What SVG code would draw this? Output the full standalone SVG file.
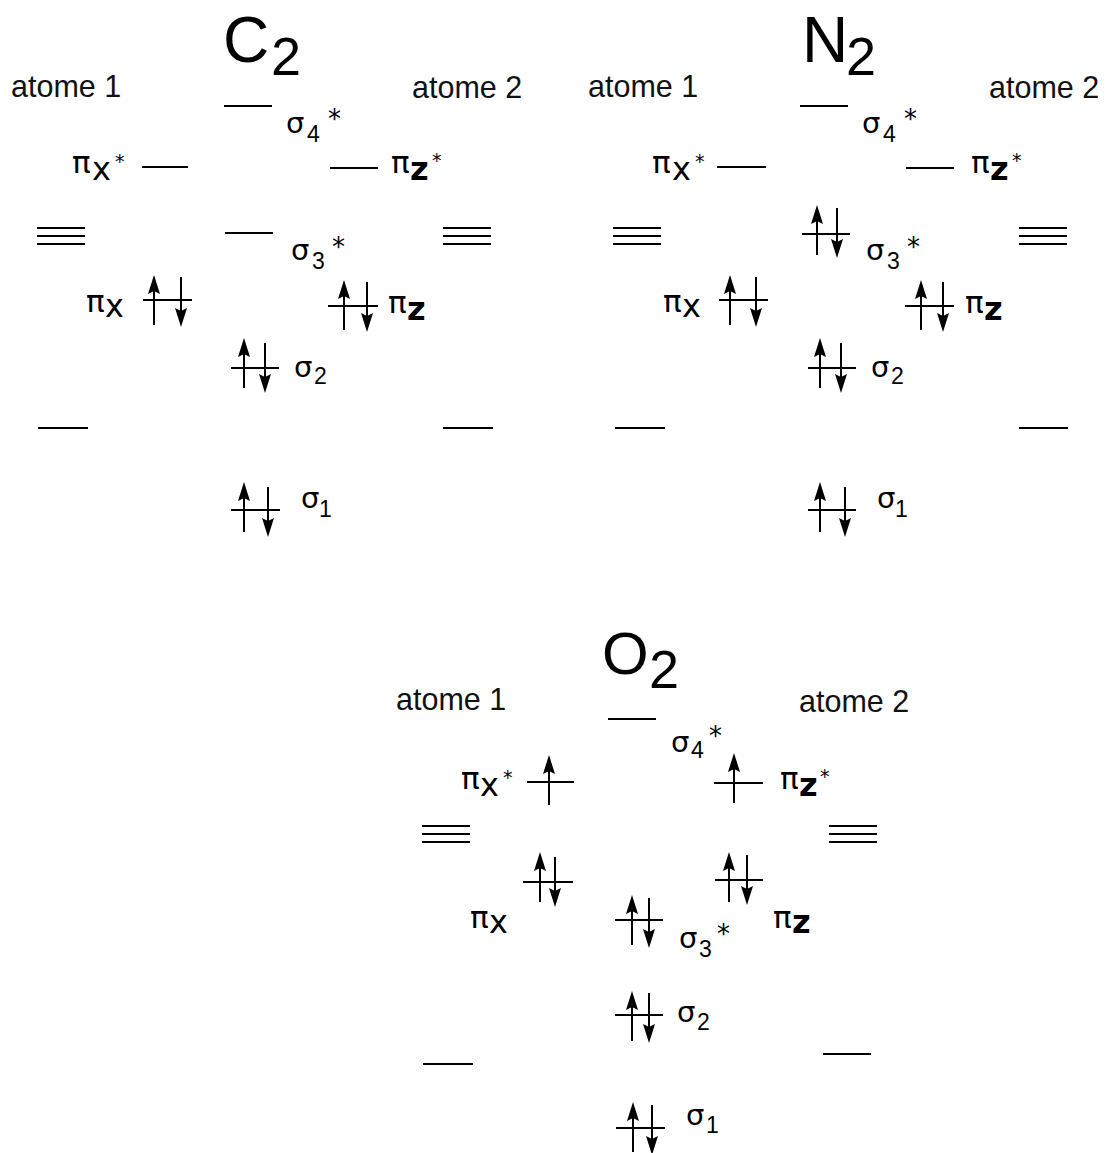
<svg xmlns="http://www.w3.org/2000/svg" xmlns:xlink="http://www.w3.org/1999/xlink" width="1108" height="1153" viewBox="0 0 1108 1153">
  <style>
    text { font-family: "Liberation Sans", Arial, sans-serif; fill: #000; }
    .lv { stroke: #000; stroke-width: 2; fill: none; }
    .sh { stroke: #000; stroke-width: 2; }
    .hd { fill: #000; stroke: none; }
    .at { font-size: 30.5px; fill: #111; }
    .ti { font-size: 64px; }
    .tis { font-size: 54px; }
    .g { font-family: "DejaVu Sans", sans-serif; }
    .sg { font-size: 29px; }
    .pi { font-size: 31px; }
    .sub { font-family: "Liberation Sans", Arial, sans-serif; font-size: 23px; }
    .st { font-size: 26px; }
    .sts { font-size: 19px; }
    .xz { font-size: 32px; }
    .zb { font-size: 32px; font-weight: bold; }
  </style>
  <defs>
    <!-- electron spin up: tip at (0,0), shaft 50 long -->
    <g id="eu">
      <line class="sh" x1="0" y1="10" x2="0" y2="50"/>
      <path class="hd" d="M0,0 L6,19 L0,16 L-6,19 Z"/>
    </g>
    <!-- electron spin down: top at (0,0), tip at (0,50) -->
    <g id="ed">
      <line class="sh" x1="0" y1="0" x2="0" y2="40"/>
      <path class="hd" d="M0,50 L6,31 L0,34 L-6,31 Z"/>
    </g>
    <!-- triple degenerate atomic p level -->
    <g id="tri">
      <line class="lv" x1="0" y1="0" x2="48" y2="0"/>
      <line class="lv" x1="0" y1="8" x2="48" y2="8"/>
      <line class="lv" x1="0" y1="16" x2="48" y2="16"/>
    </g>
  </defs>

  <rect width="1108" height="1153" fill="#fff"/>

  <!-- ===================== C2 ===================== -->
  <g id="c2">
    <g id="c2-title">
      <text class="ti" x="223" y="62">C<tspan class="tis" x="271" y="75">2</tspan></text>
    </g>
    <g id="c2-atome1"><text class="at" x="11" y="97">atome 1</text></g>
    <g id="c2-atome2"><text class="at" x="412" y="98">atome 2</text></g>

    <g id="c2-sigma4s">
      <line class="lv" x1="224" y1="106" x2="272" y2="106"/>
      <text class="g sg" x="286" y="133">σ<tspan class="sub" x="307" y="142">4</tspan><tspan class="st" x="328" y="128">*</tspan></text>
    </g>
    <g id="c2-pix-s">
      <text class="g pi" x="72" y="173">π<tspan class="xz" x="92" y="180">x</tspan><tspan class="sts" x="115" y="168">*</tspan></text>
      <line class="lv" x1="142" y1="167" x2="188" y2="167"/>
    </g>
    <g id="c2-piz-s">
      <line class="lv" x1="330" y1="168" x2="378" y2="168"/>
      <text class="g pi" x="391" y="173">π<tspan class="zb" x="410" y="180">z</tspan><tspan class="sts" x="432" y="167">*</tspan></text>
    </g>
    <g id="c2-p1"><use xlink:href="#tri" x="37" y="228"/></g>
    <g id="c2-p2"><use xlink:href="#tri" x="443" y="228"/></g>
    <g id="c2-sigma3s">
      <line class="lv" x1="225" y1="233" x2="273" y2="233"/>
      <text class="g sg" x="291" y="260">σ<tspan class="sub" x="312" y="269">3</tspan><tspan class="st" x="332" y="256">*</tspan></text>
    </g>
    <g id="c2-pix">
      <text class="g pi" x="86" y="312">π<tspan class="xz" x="105" y="317">x</tspan></text>
      <line class="lv" x1="143" y1="300" x2="192" y2="300"/>
      <use xlink:href="#eu" x="154" y="275"/>
      <use xlink:href="#ed" x="181" y="277"/>
    </g>
    <g id="c2-piz">
      <line class="lv" x1="328" y1="306" x2="378" y2="306"/>
      <use xlink:href="#eu" x="344" y="280"/>
      <use xlink:href="#ed" x="367" y="282"/>
      <text class="g pi" x="388" y="313">π<tspan class="zb" x="407" y="320">z</tspan></text>
    </g>
    <g id="c2-sigma2">
      <line class="lv" x1="231" y1="368" x2="279" y2="368"/>
      <use xlink:href="#eu" x="244" y="338"/>
      <use xlink:href="#ed" x="265" y="343"/>
      <text class="g sg" x="294" y="377">σ<tspan class="sub" x="314" y="384">2</tspan></text>
    </g>
    <g id="c2-s1"><line class="lv" x1="38" y1="428" x2="88" y2="428"/></g>
    <g id="c2-s2"><line class="lv" x1="443" y1="428" x2="493" y2="428"/></g>
    <g id="c2-sigma1">
      <line class="lv" x1="231" y1="510" x2="280" y2="510"/>
      <use xlink:href="#eu" x="244" y="482"/>
      <use xlink:href="#ed" x="268" y="487"/>
      <text class="g sg" x="301" y="508">σ<tspan class="sub" x="319" y="517">1</tspan></text>
    </g>
  </g>

  <!-- ===================== N2 ===================== -->
  <g id="n2" transform="translate(576,0)">
    <g id="n2-title">
      <text class="ti" x="226" y="62">N<tspan class="tis" x="270" y="75">2</tspan></text>
    </g>
    <g id="n2-atome1"><text class="at" x="12" y="97">atome 1</text></g>
    <g id="n2-atome2"><text class="at" x="413" y="98">atome 2</text></g>

    <g id="n2-sigma4s">
      <line class="lv" x1="224" y1="106" x2="272" y2="106"/>
      <text class="g sg" x="286" y="133">σ<tspan class="sub" x="307" y="142">4</tspan><tspan class="st" x="328" y="128">*</tspan></text>
    </g>
    <g id="n2-pix-s">
      <text class="g pi" x="76" y="173">π<tspan class="xz" x="96" y="180">x</tspan><tspan class="sts" x="119" y="168">*</tspan></text>
      <line class="lv" x1="141" y1="167" x2="190" y2="167"/>
    </g>
    <g id="n2-piz-s">
      <line class="lv" x1="330" y1="168" x2="378" y2="168"/>
      <text class="g pi" x="395" y="173">π<tspan class="zb" x="414" y="180">z</tspan><tspan class="sts" x="436" y="167">*</tspan></text>
    </g>
    <g id="n2-p1"><use xlink:href="#tri" x="37" y="228"/></g>
    <g id="n2-p2"><use xlink:href="#tri" x="443" y="228"/></g>
    <g id="n2-sigma3s">
      <line class="lv" x1="226" y1="234" x2="274" y2="234"/>
      <use xlink:href="#eu" x="241" y="205"/>
      <use xlink:href="#ed" x="261" y="208"/>
      <text class="g sg" x="290" y="260">σ<tspan class="sub" x="311" y="269">3</tspan><tspan class="st" x="331" y="256">*</tspan></text>
    </g>
    <g id="n2-pix">
      <text class="g pi" x="87" y="312">π<tspan class="xz" x="106" y="317">x</tspan></text>
      <line class="lv" x1="143" y1="300" x2="192" y2="300"/>
      <use xlink:href="#eu" x="154" y="275"/>
      <use xlink:href="#ed" x="180" y="277"/>
    </g>
    <g id="n2-piz">
      <line class="lv" x1="329" y1="306" x2="378" y2="306"/>
      <use xlink:href="#eu" x="345" y="280"/>
      <use xlink:href="#ed" x="367" y="282"/>
      <text class="g pi" x="389" y="313">π<tspan class="zb" x="408" y="320">z</tspan></text>
    </g>
    <g id="n2-sigma2">
      <line class="lv" x1="232" y1="368" x2="280" y2="368"/>
      <use xlink:href="#eu" x="244" y="338"/>
      <use xlink:href="#ed" x="265" y="343"/>
      <text class="g sg" x="295" y="377">σ<tspan class="sub" x="315" y="384">2</tspan></text>
    </g>
    <g id="n2-s1"><line class="lv" x1="39" y1="428" x2="89" y2="428"/></g>
    <g id="n2-s2"><line class="lv" x1="443" y1="428" x2="492" y2="428"/></g>
    <g id="n2-sigma1">
      <line class="lv" x1="232" y1="510" x2="280" y2="510"/>
      <use xlink:href="#eu" x="244" y="482"/>
      <use xlink:href="#ed" x="269" y="487"/>
      <text class="g sg" x="301" y="508">σ<tspan class="sub" x="319" y="517">1</tspan></text>
    </g>
  </g>

  <!-- ===================== O2 ===================== -->
  <g id="o2">
    <g id="o2-title">
      <text class="ti" x="602" y="674" style="font-size:60px">O<tspan class="tis" x="649" y="688">2</tspan></text>
    </g>
    <g id="o2-atome1"><text class="at" x="396" y="710">atome 1</text></g>
    <g id="o2-atome2"><text class="at" x="799" y="712">atome 2</text></g>

    <g id="o2-sigma4s">
      <line class="lv" x1="608" y1="719" x2="656" y2="719"/>
      <text class="g sg" x="671" y="752">σ<tspan class="sub" x="691" y="758">4</tspan><tspan class="st" x="709" y="745">*</tspan></text>
    </g>
    <g id="o2-pix-s">
      <text class="g pi" x="461" y="789">π<tspan class="xz" x="480" y="796">x</tspan><tspan class="sts" x="503" y="784">*</tspan></text>
      <line class="lv" x1="527" y1="782" x2="574" y2="782"/>
      <use xlink:href="#eu" x="549" y="755"/>
    </g>
    <g id="o2-piz-s">
      <line class="lv" x1="714" y1="783" x2="763" y2="783"/>
      <use xlink:href="#eu" x="734" y="753"/>
      <text class="g pi" x="780" y="789">π<tspan class="zb" x="799" y="796">z</tspan><tspan class="sts" x="820" y="783">*</tspan></text>
    </g>
    <g id="o2-p1"><use xlink:href="#tri" x="422" y="826"/></g>
    <g id="o2-p2"><use xlink:href="#tri" x="829" y="826"/></g>
    <g id="o2-pix">
      <line class="lv" x1="523" y1="882" x2="573" y2="882"/>
      <use xlink:href="#eu" x="540" y="852"/>
      <use xlink:href="#ed" x="555" y="857"/>
      <text class="g pi" x="470" y="928">π<tspan class="xz" x="489" y="933">x</tspan></text>
    </g>
    <g id="o2-piz">
      <line class="lv" x1="715" y1="880" x2="763" y2="880"/>
      <use xlink:href="#eu" x="729" y="852"/>
      <use xlink:href="#ed" x="747" y="855"/>
      <text class="g pi" x="773" y="928">π<tspan class="zb" x="792" y="933">z</tspan></text>
    </g>
    <g id="o2-sigma3s">
      <line class="lv" x1="615" y1="920" x2="663" y2="920"/>
      <use xlink:href="#eu" x="632" y="895"/>
      <use xlink:href="#ed" x="649" y="898"/>
      <text class="g sg" x="679" y="948">σ<tspan class="sub" x="699" y="957">3</tspan><tspan class="st" x="717" y="943">*</tspan></text>
    </g>
    <g id="o2-sigma2">
      <line class="lv" x1="615" y1="1015" x2="663" y2="1015"/>
      <use xlink:href="#eu" x="632" y="991"/>
      <use xlink:href="#ed" x="649" y="993"/>
      <text class="g sg" x="677" y="1022">σ<tspan class="sub" x="697" y="1030">2</tspan></text>
    </g>
    <g id="o2-s1"><line class="lv" x1="423" y1="1064" x2="473" y2="1064"/></g>
    <g id="o2-s2"><line class="lv" x1="823" y1="1054" x2="871" y2="1054"/></g>
    <g id="o2-sigma1">
      <line class="lv" x1="616" y1="1128" x2="665" y2="1128"/>
      <use xlink:href="#eu" x="633" y="1102"/>
      <use xlink:href="#ed" x="652" y="1105"/>
      <text class="g sg" x="686" y="1125">σ<tspan class="sub" x="706" y="1133">1</tspan></text>
    </g>
  </g>
</svg>
